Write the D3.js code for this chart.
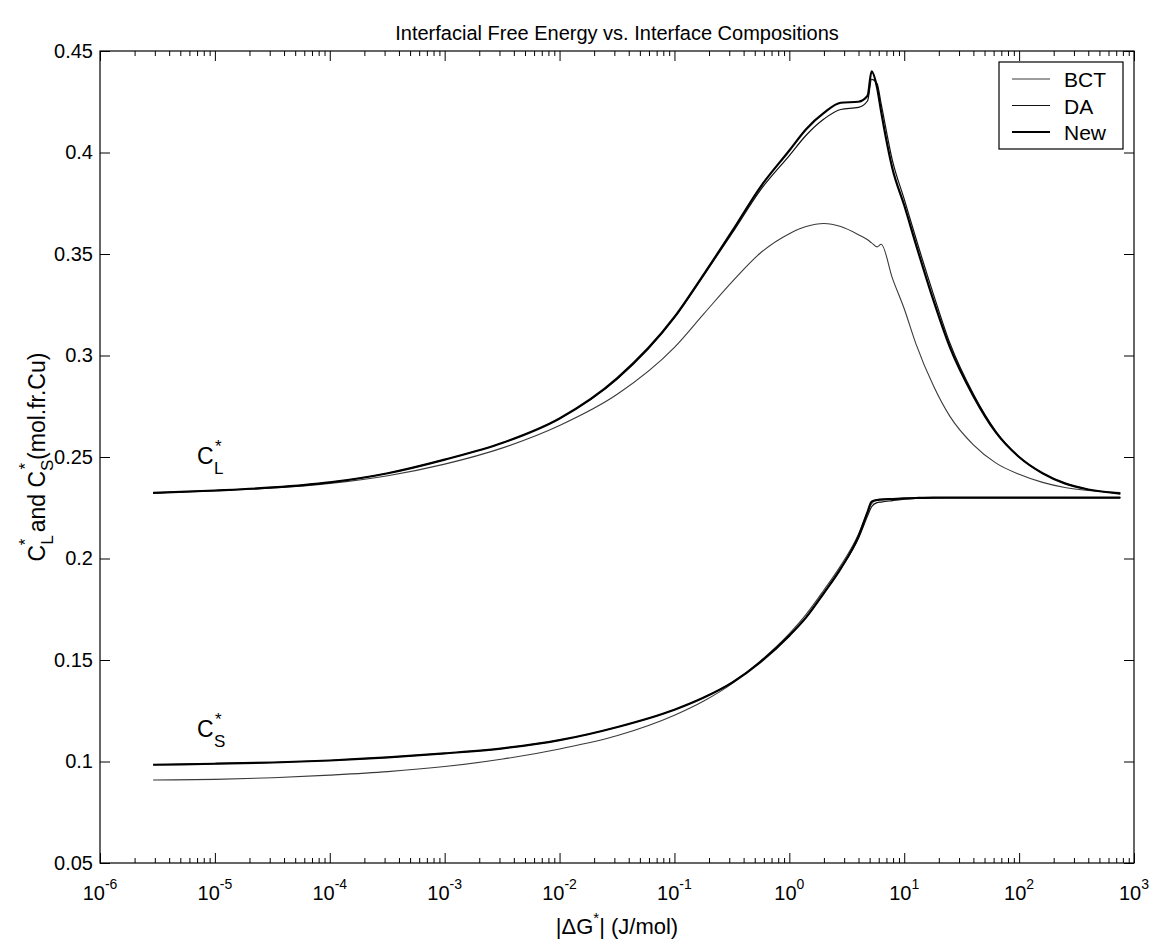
<!DOCTYPE html>
<html>
<head>
<meta charset="utf-8">
<script src="https://cdn.jsdelivr.net/npm/d3@7"></script>
<style>
  html, body { margin: 0; padding: 0; background: #fff; }
  svg { display: block; }
  text { font-family: "Liberation Sans", Arial, Helvetica, sans-serif; fill: #000; }
</style>
</head>
<body>
<svg id="chart" width="1159" height="943"></svg>
<script>
// ---------------- data ----------------
const titleText = "Interfacial Free Energy vs. Interface Compositions";
const seriesNames = ["BCT", "DA", "New"];
const yTicks = [0.05, 0.1, 0.15, 0.2, 0.25, 0.3, 0.35, 0.4, 0.45];
const xMajorTicks = [1e-6, 1e-5, 1e-4, 1e-3, 1e-2, 1e-1, 1e0, 1e1, 1e2, 1e3];
const xTickExponents = ["-6", "-5", "-4", "-3", "-2", "-1", "0", "1", "2", "3"];

// |dG*| (J/mol) sample points shared by all curves
const dG = [2.9e-6, 1e-5, 3.2e-5, 1e-4, 3.2e-4, 1e-3, 3.2e-3, 0.01, 0.032, 0.1,
            0.18, 0.32, 0.56, 1.0, 1.4, 2.0, 2.8, 4.0, 4.8, 5.2,
            5.8, 6.3, 7.9, 10, 12.6, 18, 25, 40, 63, 100,
            160, 250, 400, 760];

// liquid interface composition C_L*
const cl_BCT = [0.2323, 0.2333, 0.2347, 0.2370, 0.2408, 0.2465, 0.2545, 0.2655, 0.2810, 0.3040,
                0.3205, 0.3365, 0.3505, 0.3600, 0.3635, 0.3650, 0.3635, 0.3595, 0.3570, 0.3555,
                0.3535, 0.3548, 0.3380, 0.3230, 0.3060, 0.2850, 0.2700, 0.2560, 0.2470, 0.2415,
                0.2375, 0.2350, 0.2335, 0.2325];
const cl_DA  = [0.2323, 0.2335, 0.2350, 0.2375, 0.2420, 0.2487, 0.2570, 0.2690, 0.2885, 0.3185,
                0.3395, 0.3605, 0.3815, 0.3985, 0.4085, 0.4165, 0.4212, 0.4222, 0.4255, 0.4360,
                0.4340, 0.4240, 0.3960, 0.3770, 0.3580, 0.3300, 0.3060, 0.2810, 0.2625, 0.2500,
                0.2420, 0.2370, 0.2340, 0.2320];
const cl_New = [0.2323, 0.2335, 0.2350, 0.2375, 0.2420, 0.2487, 0.2570, 0.2690, 0.2890, 0.3190,
                0.3400, 0.3615, 0.3830, 0.4010, 0.4115, 0.4195, 0.4245, 0.4250, 0.4280, 0.4400,
                0.4320, 0.4200, 0.3920, 0.3740, 0.3550, 0.3270, 0.3040, 0.2800, 0.2620, 0.2500,
                0.2420, 0.2370, 0.2340, 0.2320];

// solid interface composition C_S*
const cs_BCT = [0.0909, 0.0912, 0.0920, 0.0933, 0.0950, 0.0975, 0.1012, 0.1062, 0.1128, 0.1228,
                0.1298, 0.1385, 0.1495, 0.1630, 0.1725, 0.1845, 0.1965, 0.2120, 0.2230, 0.2270,
                0.2290, 0.2292, 0.2294, 0.2296, 0.2298, 0.2300, 0.2300, 0.2300, 0.2300, 0.2300,
                0.2300, 0.2300, 0.2300, 0.2300];
const cs_DA  = [0.0984, 0.0989, 0.0995, 0.1005, 0.1020, 0.1040, 0.1065, 0.1105, 0.1170, 0.1255,
                0.1315, 0.1390, 0.1490, 0.1620, 0.1710, 0.1830, 0.1950, 0.2100, 0.2210, 0.2255,
                0.2275, 0.2278, 0.2285, 0.2292, 0.2296, 0.2299, 0.2300, 0.2300, 0.2300, 0.2300,
                0.2300, 0.2300, 0.2300, 0.2300];
const cs_New = [0.0984, 0.0989, 0.0995, 0.1005, 0.1020, 0.1040, 0.1065, 0.1105, 0.1170, 0.1255,
                0.1315, 0.1390, 0.1490, 0.1620, 0.1710, 0.1830, 0.1950, 0.2110, 0.2230, 0.2280,
                0.2288, 0.2290, 0.2293, 0.2296, 0.2298, 0.2300, 0.2300, 0.2300, 0.2300, 0.2300,
                0.2300, 0.2300, 0.2300, 0.2300];

// ---------------- layout ----------------
const W = 1159, H = 943;
const plot = { left: 100, right: 1134, top: 51, bottom: 863 };
const FONT = '"Liberation Sans", Arial, Helvetica, sans-serif';

const svg = d3.select("#chart");
svg.append("rect").attr("width", W).attr("height", H).attr("fill", "#fff");

const x = d3.scaleLog().domain([1e-6, 1e3]).range([plot.left, plot.right]);
const y = d3.scaleLinear().domain([0.05, 0.45]).range([plot.bottom, plot.top]);

// minor ticks of the log axis
const xMinor = [];
xMajorTicks.slice(0, -1).forEach(m => { for (let k = 2; k <= 9; k++) xMinor.push(m * k); });

function styleAxis(g) {
  g.selectAll(".domain").remove();
  g.selectAll(".tick line").attr("stroke", "#000").attr("stroke-width", 1);
}

// bottom axis
const gB = svg.append("g").attr("transform", `translate(0,${plot.bottom})`)
  .call(d3.axisBottom(x).tickValues(xMajorTicks).tickSize(-10).tickFormat(""));
styleAxis(gB);
const gBm = svg.append("g").attr("transform", `translate(0,${plot.bottom})`)
  .call(d3.axisBottom(x).tickValues(xMinor).tickSize(-5).tickFormat(""));
styleAxis(gBm);
// top axis
const gT = svg.append("g").attr("transform", `translate(0,${plot.top})`)
  .call(d3.axisTop(x).tickValues(xMajorTicks).tickSize(-10).tickFormat(""));
styleAxis(gT);
const gTm = svg.append("g").attr("transform", `translate(0,${plot.top})`)
  .call(d3.axisTop(x).tickValues(xMinor).tickSize(-5).tickFormat(""));
styleAxis(gTm);
// left axis
const gL = svg.append("g").attr("transform", `translate(${plot.left},0)`)
  .call(d3.axisLeft(y).tickValues(yTicks).tickSize(-10).tickPadding(7)
        .tickFormat(d => String(+d.toFixed(2))));
styleAxis(gL);
gL.selectAll(".tick text").attr("font-size", 20).attr("font-family", FONT).attr("fill", "#000");
// right axis
const gR = svg.append("g").attr("transform", `translate(${plot.right},0)`)
  .call(d3.axisRight(y).tickValues(yTicks).tickSize(-10).tickFormat(""));
styleAxis(gR);

// frame
svg.append("rect")
  .attr("x", plot.left).attr("y", plot.top)
  .attr("width", plot.right - plot.left).attr("height", plot.bottom - plot.top)
  .attr("fill", "none").attr("stroke", "#000").attr("stroke-width", 1.2);

// x tick labels: 10^n
const xl = svg.append("g");
xMajorTicks.forEach((v, i) => {
  const t = xl.append("text")
    .attr("x", x(v)).attr("y", plot.bottom + 37)
    .attr("text-anchor", "middle").attr("font-size", 20);
  t.append("tspan").text("10");
  t.append("tspan").attr("font-size", 14).attr("dy", -11).text(xTickExponents[i]);
});

// curves
const line = d3.line()
  .x(d => x(d[0])).y(d => y(d[1]))
  .curve(d3.curveMonotoneX);

const styles = {
  BCT: { stroke: "#3a3a3a", width: 1.1 },
  DA:  { stroke: "#111",    width: 1.2 },
  New: { stroke: "#000",    width: 2.2 }
};
const curves = [
  ["BCT", cl_BCT], ["BCT", cs_BCT],
  ["DA", cl_DA], ["DA", cs_DA],
  ["New", cl_New], ["New", cs_New]
];
const gC = svg.append("g");
curves.forEach(([name, vals]) => {
  gC.append("path")
    .datum(dG.map((g, i) => [g, vals[i]]))
    .attr("d", line)
    .attr("fill", "none")
    .attr("stroke", styles[name].stroke)
    .attr("stroke-width", styles[name].width)
    .attr("stroke-linejoin", "round");
});

// title
svg.append("text")
  .attr("x", (plot.left + plot.right) / 2).attr("y", plot.top - 11)
  .attr("text-anchor", "middle").attr("font-size", 20)
  .text(titleText);

// x label
const xlab = svg.append("text")
  .attr("x", (plot.left + plot.right) / 2).attr("y", 934)
  .attr("text-anchor", "middle").attr("font-size", 22);
xlab.append("tspan").text("|\u0394G");
xlab.append("tspan").attr("font-size", 15).attr("dy", -11).text("*");
xlab.append("tspan").attr("dy", 11).text("| (J/mol)");

// y label (rotated)
const ylab = svg.append("text")
  .attr("transform", `translate(45,${(plot.top + plot.bottom) / 2}) rotate(-90)`)
  .attr("text-anchor", "middle").attr("font-size", 23);
ylab.append("tspan").text("C");
ylab.append("tspan").attr("font-size", 17).attr("dy", 8).text("L");
ylab.append("tspan").attr("font-size", 17).attr("dx", -10).attr("dy", -22).text("*");
ylab.append("tspan").attr("dy", 14).text(" and C");
ylab.append("tspan").attr("font-size", 17).attr("dy", 8).text("S");
ylab.append("tspan").attr("font-size", 17).attr("dx", -10).attr("dy", -22).text("*");
ylab.append("tspan").attr("dx", 3).attr("dy", 14).text("(mol.fr.Cu)");

// curve annotations
function compLabel(xp, yp, sub) {
  const g = svg.append("g").attr("transform", `translate(${xp},${yp})`);
  g.append("text").attr("x", 0).attr("y", 0).attr("font-size", 23).text("C");
  g.append("text").attr("x", 17).attr("y", 10).attr("font-size", 17).text(sub);
  g.append("text").attr("x", 18).attr("y", -12).attr("font-size", 17).text("*");
}
compLabel(x(7.0e-6), y(0.2465), "L");
compLabel(x(7.0e-6), y(0.1120), "S");

// legend
const lg = svg.append("g");
const lgBox = { x: 999, y: 62, w: 124, h: 87 };
lg.append("rect").attr("x", lgBox.x).attr("y", lgBox.y)
  .attr("width", lgBox.w).attr("height", lgBox.h)
  .attr("fill", "#fff").attr("stroke", "#000").attr("stroke-width", 1.2);
seriesNames.forEach((name, i) => {
  const cy = lgBox.y + 17 + i * 26.5;
  lg.append("line").attr("x1", lgBox.x + 13).attr("x2", lgBox.x + 51)
    .attr("y1", cy).attr("y2", cy)
    .attr("stroke", styles[name].stroke).attr("stroke-width", styles[name].width);
  lg.append("text").attr("x", lgBox.x + 65).attr("y", cy + 8)
    .attr("font-size", 21).text(name);
});
</script>
</body>
</html>
